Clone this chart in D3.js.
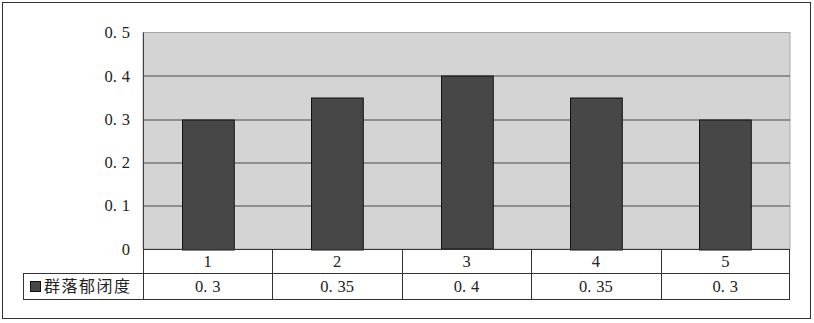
<!DOCTYPE html>
<html>
<head>
<meta charset="utf-8">
<script src="https://cdn.jsdelivr.net/npm/d3@7"></script>
<style>
body { margin: 0; background: #fff; }
svg text { fill: #222; }
.num { font-family: "Liberation Serif", "DejaVu Serif", serif; font-size: 16.5px; }
.cjk { font-family: "Noto Sans CJK SC", sans-serif; font-size: 16px; }
</style>
</head>
<body>
<div id="chart"></div>
<script>
// data
var categories = ["1", "2", "3", "4", "5"];
var values = [0.3, 0.35, 0.4, 0.35, 0.3];
var seriesName = "群落郁闭度";
var yTicks = [0, 0.1, 0.2, 0.3, 0.4, 0.5];

var W = 814, H = 323;
var margin = {top: 32.5, left: 143, right: 24, bottom: 74};
var width = W - margin.left - margin.right;   // 647
var height = H - margin.top - margin.bottom;  // 216.5
var rowH = [24, 26];
var legendLeft = 23;

// "0.35" -> "0." + wide gap + "35", like the original font
function wideDot(sel) {
    sel.each(function(){
        var s = d3.select(this), txt = s.text(), k = txt.indexOf(".");
        if (k < 0) return;
        s.text(null);
        s.append("tspan").text(txt.slice(0, k + 1));
        s.append("tspan").attr("dx", 5).text(txt.slice(k + 1));
    });
}

var svg = d3.select("#chart").append("svg")
    .attr("width", W)
    .attr("height", H);

// outer frame
svg.append("rect")
    .attr("x", 2.5).attr("y", 2.5)
    .attr("width", 808).attr("height", 316)
    .attr("fill", "#fff")
    .attr("stroke", "#333");

var g = svg.append("g")
    .attr("transform", "translate(" + margin.left + "," + margin.top + ")");

var x = d3.scaleBand()
    .domain(categories)
    .range([0, width])
    .paddingInner(0.6)
    .paddingOuter(0.3);

var xCol = d3.scaleBand()
    .domain(categories)
    .range([0, width]);

var y = d3.scaleLinear()
    .domain([0, 0.5])
    .range([height, 0]);

// plot background
g.append("rect")
    .attr("width", width)
    .attr("height", height)
    .attr("fill", "#d4d4d4")
    .attr("stroke", "#a8a8a8");

// gridlines
g.selectAll(".grid")
    .data(yTicks.filter(function(d){ return d > 0 && d < 0.5; }))
    .enter().append("line")
    .attr("x1", 0).attr("x2", width)
    .attr("y1", function(d){ return Math.round(y(d)) + 0.5; })
    .attr("y2", function(d){ return Math.round(y(d)) + 0.5; })
    .attr("stroke", "#4a4a4a");

// y axis
var yAxis = d3.axisLeft(y)
    .tickValues(yTicks)
    .tickSize(0)
    .tickPadding(13)
    .tickFormat(function(d){ return d === 0 ? "0" : d3.format(".1f")(d); });

var ya = g.append("g").call(yAxis);
ya.attr("font-size", null).attr("font-family", null);
ya.select(".domain").attr("stroke", "#444").attr("d", "M0.5,0V" + height);
ya.selectAll("text")
    .attr("class", "num")
    .attr("fill", "#222")
    .call(wideDot);

// bars
g.selectAll(".bar")
    .data(values)
    .enter().append("rect")
    .attr("x", function(d, i){ return Math.round(x(categories[i])) + 0.5; })
    .attr("y", function(d){ return Math.round(y(d)) + 0.5; })
    .attr("width", x.bandwidth())
    .attr("height", function(d){ return Math.round(height - y(d)); })
    .attr("fill", "#474747")
    .attr("stroke", "#111");

// data table
var t = g.append("g").attr("transform", "translate(0," + height + ")");
var tableH = rowH[0] + rowH[1];

t.append("line")
    .attr("x1", 0).attr("x2", width).attr("y1", 0.5).attr("y2", 0.5)
    .attr("stroke", "#333");
t.append("line")
    .attr("x1", legendLeft - margin.left).attr("x2", width)
    .attr("y1", rowH[0] + 0.5).attr("y2", rowH[0] + 0.5)
    .attr("stroke", "#333");
t.append("line")
    .attr("x1", legendLeft - margin.left).attr("x2", width)
    .attr("y1", tableH + 0.5).attr("y2", tableH + 0.5)
    .attr("stroke", "#333");
t.append("line")
    .attr("x1", legendLeft - margin.left + 0.5).attr("x2", legendLeft - margin.left + 0.5)
    .attr("y1", rowH[0]).attr("y2", tableH)
    .attr("stroke", "#333");

t.selectAll(".vdiv")
    .data(categories.concat(["end"]))
    .enter().append("line")
    .attr("x1", function(d){ return d === "end" ? width - 0.5 : Math.round(xCol(d)) + 0.5; })
    .attr("x2", function(d){ return d === "end" ? width - 0.5 : Math.round(xCol(d)) + 0.5; })
    .attr("y1", 0).attr("y2", tableH)
    .attr("stroke", "#333");

t.selectAll(".cat")
    .data(categories)
    .enter().append("text")
    .attr("class", "num")
    .attr("x", function(d){ return xCol(d) + xCol.bandwidth() / 2; })
    .attr("y", rowH[0] / 2 + 6)
    .attr("text-anchor", "middle")
    .text(function(d){ return d; });

t.selectAll(".val")
    .data(values)
    .enter().append("text")
    .attr("class", "num")
    .attr("x", function(d, i){ return xCol(categories[i]) + xCol.bandwidth() / 2; })
    .attr("y", rowH[0] + rowH[1] / 2 + 6)
    .attr("text-anchor", "middle")
    .text(function(d){ return d; })
    .call(wideDot);

// legend key
var lx = legendLeft - margin.left;
t.append("rect")
    .attr("x", lx + 7.5).attr("y", rowH[0] + 8.5)
    .attr("width", 10).attr("height", 10)
    .attr("fill", "#474747")
    .attr("stroke", "#111");
t.append("text")
    .attr("class", "cjk")
    .attr("x", lx + 21)
    .attr("y", rowH[0] + rowH[1] / 2 + 6)
    .style("letter-spacing", "1.5px")
    .text(seriesName);
</script>
</body>
</html>
